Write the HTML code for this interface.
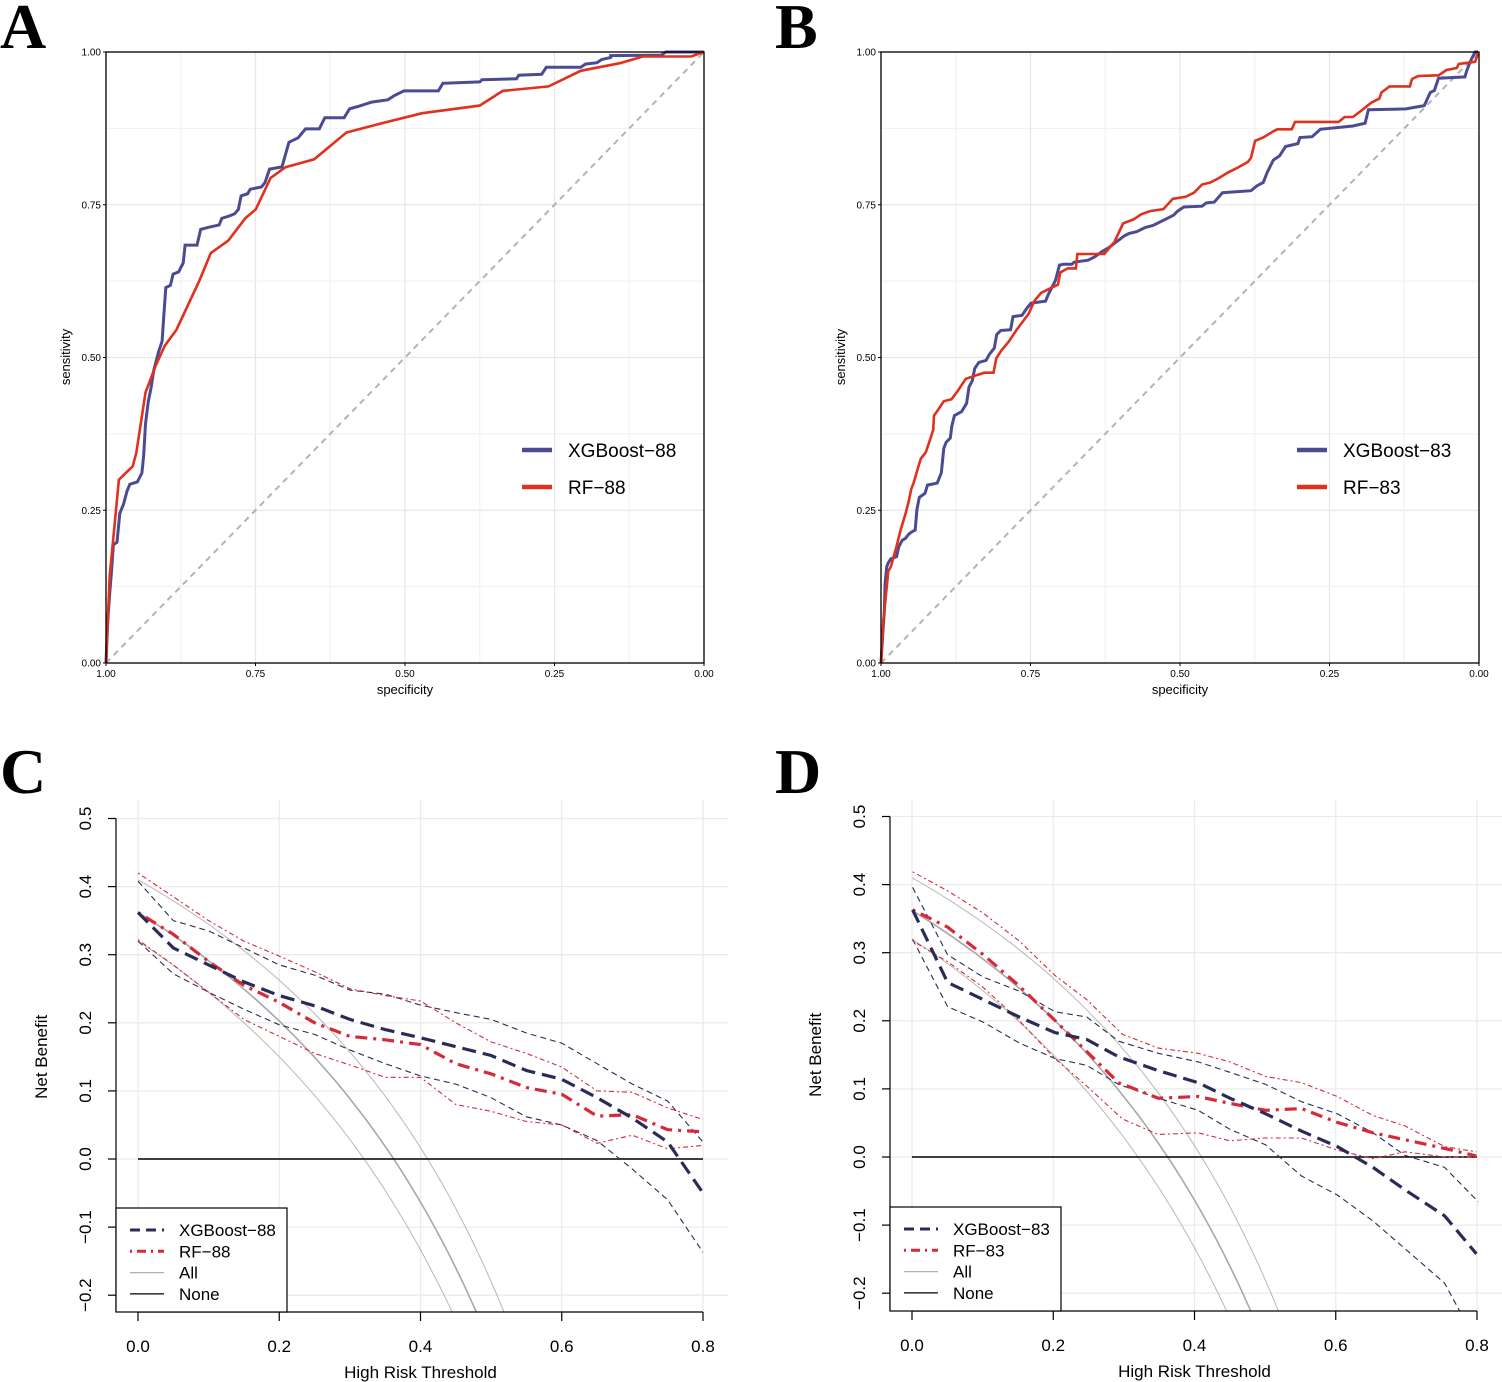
<!DOCTYPE html>
<html><head><meta charset="utf-8"><style>
html,body{margin:0;padding:0;background:#fff;width:1502px;height:1382px;overflow:hidden}
svg{display:block}
text{font-family:"Liberation Sans",Arial,sans-serif}
text.L{font-family:"Liberation Serif","Times New Roman",serif;font-weight:bold;font-size:64px}
</style></head><body>
<svg id="s" width="1502" height="1382" xmlns="http://www.w3.org/2000/svg">
<defs>
<clipPath id="cc"><rect x="116" y="790" width="612" height="522"/></clipPath>
<clipPath id="cd"><rect x="890" y="790" width="612" height="521"/></clipPath>
</defs>
<text class="L" x="0" y="48">A</text>
<text class="L" x="775" y="48">B</text>
<text class="L" x="0" y="793">C</text>
<text class="L" x="775" y="793">D</text>
<g id="g"></g>
</svg>
<script>
const NS="http://www.w3.org/2000/svg";const G=document.getElementById('g');
function el(t,a,p){const e=document.createElementNS(NS,t);for(const k in a)e.setAttribute(k,a[k]);(p||G).appendChild(e);return e;}
function txt(x,y,s,a){const e=el('text',Object.assign({x:x,y:y},a||{}));e.textContent=s;return e;}
function pl(pts,a,p){return el('polyline',Object.assign({points:pts.map(q=>q[0].toFixed(1)+','+q[1].toFixed(1)).join(' '),fill:'none'},a),p);}

function roc(x0,name,xg,rf,mx,my,lab){
  const x1=x0+598,y0=52,y1=663;
  for(let i=0;i<=8;i++){const f=i/8;const c=i%2?'#f2f2f2':'#e6e6e6';
    el('line',{x1:x0+f*598,x2:x0+f*598,y1:y0,y2:y1,stroke:c,'stroke-width':1.2});
    el('line',{x1:x0,x2:x1,y1:y0+f*611,y2:y0+f*611,stroke:c,'stroke-width':1.2});}
  el('line',{x1:x0,y1:y1,x2:x1,y2:y0,stroke:'#b3b3b3','stroke-width':2,'stroke-dasharray':'6,5'});
  pl(xg.map(p=>[mx(p[0]),my(p[1])]),{stroke:'#4B4B93','stroke-width':3,'stroke-linejoin':'miter'});
  pl(rf.map(p=>[mx(p[0]),my(p[1])]),{stroke:'#E0301E','stroke-width':2.6});
  el('rect',{x:x0,y:y0,width:598,height:611,fill:'none',stroke:'#000','stroke-width':1.3});
  const tl=['1.00','0.75','0.50','0.25','0.00'];
  for(let i=0;i<5;i++){const f=i/4;
    el('line',{x1:x0-3,x2:x0,y1:y1-f*611,y2:y1-f*611,stroke:'#000'});
    txt(x0-5,y1-f*611+3.5,['0.00','0.25','0.50','0.75','1.00'][i],{'font-size':10,'text-anchor':'end'});
    el('line',{x1:x0+f*598,x2:x0+f*598,y1:y1,y2:y1+3,stroke:'#000'});
    txt(x0+f*598,y1+14,tl[i],{'font-size':10,'text-anchor':'middle'});}
  txt(x0+299,y1+31,'specificity',{'font-size':13,'text-anchor':'middle'});
  txt(0,0,'sensitivity',{'font-size':13,'text-anchor':'middle',transform:`translate(${x0-36},${y0+305}) rotate(-90)`});
  const lx=x0+416;
  el('line',{x1:lx,x2:lx+30,y1:450,y2:450,stroke:'#4B4B93','stroke-width':4.5});
  el('line',{x1:lx,x2:lx+30,y1:487,y2:487,stroke:'#E0301E','stroke-width':4.5});
  txt(lx+46,457,'XGBoost\u2212'+lab,{'font-size':19});
  txt(lx+46,494,'RF\u2212'+lab,{'font-size':19});
}
const axg=[[232,1485],[236,1390],[240,1330],[244,1280],[248,1220],[256,1215],[262,1150],[270,1130],[278,1100],[284,1085],[300,1080],[310,1060],[314,1020],[318,950],[324,900],[330,870],[336,830],[346,790],[354,765],[358,705],[362,645],[372,640],[378,615],[390,610],[400,590],[404,550],[430,550],[438,515],[456,510],[478,505],[484,490],[500,485],[512,480],[520,470],[526,440],[540,435],[546,425],[570,420],[578,410],[588,380],[615,375],[630,320],[650,310],[666,290],[696,290],[708,265],[750,265],[762,245],[780,240],[810,230],[845,225],[860,215],[880,205],[955,205],[965,188],[1045,185],[1050,180],[1125,178],[1130,170],[1180,168],[1190,152],[1265,152],[1275,145],[1300,142],[1310,135],[1330,130],[1330,126],[1440,125],[1450,118],[1533,118]];
const arf=[[232,1485],[240,1290],[260,1075],[290,1045],[298,1015],[318,880],[340,820],[360,775],[385,740],[410,685],[435,630],[460,568],[498,540],[535,490],[558,470],[590,400],[622,376],[685,358],[755,298],[830,278],[920,255],[1045,238],[1095,205],[1195,195],[1265,160],[1350,143],[1400,128],[1505,128],[1533,118]];
roc(106,'A',axg,arf,x=>106+(x-232)*598/1301,y=>52+(y-118)*611/1367,'88');
const bxg=[[52,1525],[56,1460],[60,1400],[62,1330],[66,1290],[70,1280],[76,1270],[90,1265],[96,1240],[104,1225],[112,1220],[120,1210],[126,1205],[136,1200],[140,1150],[146,1120],[160,1110],[166,1090],[190,1085],[200,1060],[206,1000],[212,985],[222,975],[226,945],[232,920],[250,910],[262,890],[268,850],[276,835],[282,805],[292,790],[310,785],[318,770],[330,755],[336,722],[346,712],[370,710],[376,678],[398,675],[408,660],[420,645],[456,640],[462,625],[472,605],[480,590],[490,552],[500,550],[520,550],[526,545],[560,540],[576,532],[596,518],[610,510],[630,495],[650,480],[660,475],[680,470],[700,460],[720,455],[740,445],[750,440],[770,430],[780,420],[795,410],[840,408],[850,400],[870,398],[890,375],[960,370],[975,358],[990,350],[1000,325],[1015,295],[1030,285],[1045,262],[1075,255],[1080,240],[1110,238],[1125,225],[1130,220],[1210,212],[1240,205],[1248,172],[1340,170],[1385,162],[1400,130],[1410,125],[1420,95],[1485,92],[1490,75],[1500,50],[1510,31],[1517,31]];
const brf=[[52,1525],[58,1420],[62,1380],[68,1320],[70,1300],[76,1290],[90,1240],[100,1200],[112,1160],[120,1130],[126,1100],[132,1085],[142,1050],[150,1025],[162,1010],[172,980],[180,955],[182,920],[188,912],[206,885],[225,880],[240,860],[260,830],[290,820],[306,815],[328,815],[335,780],[348,760],[365,740],[385,710],[415,670],[428,640],[445,620],[465,610],[486,600],[492,570],[510,560],[530,560],[534,525],[600,525],[625,495],[646,450],[672,440],[690,428],[712,420],[745,415],[768,390],[800,385],[820,375],[840,355],[860,350],[880,340],[905,325],[925,315],[952,300],[960,290],[970,248],[990,240],[1015,225],[1025,220],[1060,220],[1068,202],[1175,202],[1190,190],[1210,190],[1230,175],[1255,155],[1275,145],[1280,130],[1300,115],[1350,115],[1355,97],[1370,90],[1420,88],[1440,75],[1465,70],[1470,60],[1510,55],[1517,35]];
roc(881,'B',bxg,brf,x=>881+(x-52)*0.4075,y=>52+(y-31)*0.409,'83');

function dca(cfg){
  const {tx0,zy,ax,by,clip,lab,series}=cfg;
  const X=t=>tx0+t*706.25, Y=v=>zy-v*681;
  const grp=el('g',{'clip-path':`url(#${clip})`});
  for(let i=0;i<=4;i++)el('line',{x1:X(i*0.2),x2:X(i*0.2),y1:800,y2:by,stroke:'#ebebeb','stroke-width':1.3},grp);
  for(let v=-0.2;v<=0.51;v+=0.1)el('line',{x1:ax,x2:ax+612,y1:Y(v),y2:Y(v),stroke:'#ebebeb','stroke-width':1.3},grp);
  for(const [p,w,c] of [[0.41,1,'#b8b8b8'],[0.362,1.6,'#a8a8a8'],[0.32,1,'#b8b8b8']]){const pts=[];for(let t=0;t<=0.6;t+=0.01)pts.push([X(t),Y(p-(1-p)*t/(1-t))]);pl(pts,{stroke:c,'stroke-width':w},grp);}
  el('line',{x1:X(0),x2:X(0.8),y1:Y(0),y2:Y(0),stroke:'#000','stroke-width':1.4},grp);
  for(const s of series){pl(s.d.map(q=>[X(q[0]),Y(q[1])]),s.a,grp);}
  el('line',{x1:ax,x2:ax,y1:Y(0.5),y2:by,stroke:'#000','stroke-width':1.2});
  el('line',{x1:X(0),x2:X(0.8),y1:by,y2:by,stroke:'#000','stroke-width':1.2});
  for(let i=0;i<=4;i++){el('line',{x1:X(i*0.2),x2:X(i*0.2),y1:by,y2:by+9,stroke:'#000','stroke-width':1.2});
    txt(X(i*0.2),by+40,(i*0.2).toFixed(1),{'font-size':17,'text-anchor':'middle'});}
  const yl=['\u22120.2','\u22120.1','0.0','0.1','0.2','0.3','0.4','0.5'];
  for(let i=0;i<8;i++){const v=-0.2+i*0.1;el('line',{x1:ax-8,x2:ax,y1:Y(v),y2:Y(v),stroke:'#000','stroke-width':1.2});
    txt(0,0,yl[i],{'font-size':17,'text-anchor':'middle',transform:`translate(${ax-25},${Y(v)}) rotate(-90)`});}
  txt(X(0.4),by+66,'High Risk Threshold',{'font-size':17,'text-anchor':'middle'});
  txt(0,0,'Net Benefit',{'font-size':17,'text-anchor':'middle',transform:`translate(${ax-69},${Y(0.15)}) rotate(-90)`});
  const lt=by-104;
  el('rect',{x:ax,y:lt,width:171,height:104,fill:'#fff',stroke:'#000','stroke-width':1.2});
  const rows=[['XGBoost\u2212'+lab,{stroke:'#2B2B57','stroke-width':3,'stroke-dasharray':'10,6'}],['RF\u2212'+lab,{stroke:'#D42A3A','stroke-width':3,'stroke-dasharray':'2,5,9,5'}],['All',{stroke:'#b0b0b0','stroke-width':1.2}],['None',{stroke:'#000','stroke-width':1.2}]];
  rows.forEach((r,i)=>{const y=lt+22+i*21.3;el('line',Object.assign({x1:ax+14,x2:ax+48,y1:y,y2:y},r[1]));txt(ax+63,y+6,r[0],{'font-size':17});});
}
const T=[0,0.05,0.1,0.15,0.2,0.25,0.3,0.35,0.4,0.45,0.5,0.55,0.6,0.65,0.7,0.75,0.8];
const z=a=>a.map((v,i)=>[T[i],v]);
const XM={stroke:'#2B2B57','stroke-width':3.2,'stroke-dasharray':'14,7'};
const XC={stroke:'#2B2B57','stroke-width':1.1,'stroke-dasharray':'6,4'};
const RM={stroke:'#D42A3A','stroke-width':3.2,'stroke-dasharray':'3,6,12,6'};
const RC={stroke:'#D42A3A','stroke-width':1.1,'stroke-dasharray':'2,3,5,3'};
dca({tx0:138,zy:1159,ax:116,by:1312,clip:'cc',lab:'88',series:[
 {d:z([0.408,0.35,0.335,0.31,0.285,0.27,0.248,0.242,0.226,0.215,0.205,0.185,0.17,0.14,0.11,0.085,0.025]),a:XC},
 {d:z([0.32,0.272,0.245,0.22,0.197,0.183,0.16,0.14,0.122,0.11,0.09,0.062,0.05,0.027,-0.015,-0.06,-0.137]),a:XC},
 {d:z([0.42,0.385,0.35,0.32,0.298,0.275,0.25,0.24,0.232,0.2,0.172,0.155,0.135,0.1,0.098,0.075,0.058]),a:RC},
 {d:z([0.322,0.285,0.245,0.205,0.18,0.155,0.138,0.12,0.12,0.08,0.07,0.055,0.05,0.023,0.035,0.015,0.02]),a:RC},
 {d:z([0.362,0.33,0.29,0.255,0.23,0.2,0.18,0.175,0.168,0.14,0.125,0.105,0.095,0.063,0.065,0.043,0.04]),a:RM},
 {d:z([0.362,0.31,0.285,0.26,0.24,0.225,0.205,0.19,0.178,0.165,0.152,0.13,0.117,0.09,0.06,0.025,-0.05]),a:XM}]});
const zd=a=>a.map(p=>[((p[0]/2.515)+880-912)/706.25,(1065-p[1])/1970]);
dca({tx0:912,zy:1157,ax:890,by:1311,clip:'cd',lab:'83',series:[
 {d:zd([[82,285],[170,480],[260,545],[350,585],[440,645],[520,660],[600,730],[700,765],[800,790],[880,820],[970,855],[1060,905],[1150,940],[1240,995],[1320,1060],[1420,1095],[1505,1195]]),a:XC},
 {d:zd([[82,435],[170,630],[260,675],[350,735],[440,780],[520,800],[600,855],[700,895],[800,930],[880,985],[970,1030],[1060,1120],[1150,1175],[1240,1250],[1320,1330],[1420,1430],[1460,1515],[1470,1560]]),a:XC},
 {d:zd([[82,240],[170,295],[260,360],[350,440],[440,540],[520,610],[610,710],[700,750],[800,765],[880,790],[970,832],[1060,850],[1150,890],[1240,945],[1320,975],[1420,1035],[1500,1050]]),a:RC},
 {d:zd([[82,440],[170,500],[260,575],[350,670],[440,780],[520,860],[610,955],[700,1000],[800,995],[880,1018],[970,1010],[1060,1010],[1150,1045],[1240,1070],[1320,1050],[1420,1065],[1500,1065]]),a:RC},
 {d:zd([[82,350],[170,400],[260,480],[350,570],[440,670],[520,760],[600,850],[700,895],[800,890],[880,910],[970,930],[1060,925],[1150,965],[1240,995],[1320,1015],[1420,1040],[1500,1062]]),a:RM},
 {d:zd([[82,350],[170,560],[260,610],[350,660],[440,705],[520,725],[600,775],[700,815],[800,850],[880,895],[970,940],[1060,990],[1150,1035],[1240,1095],[1320,1160],[1420,1235],[1500,1345]]),a:XM}]});
</script>
</body></html>
